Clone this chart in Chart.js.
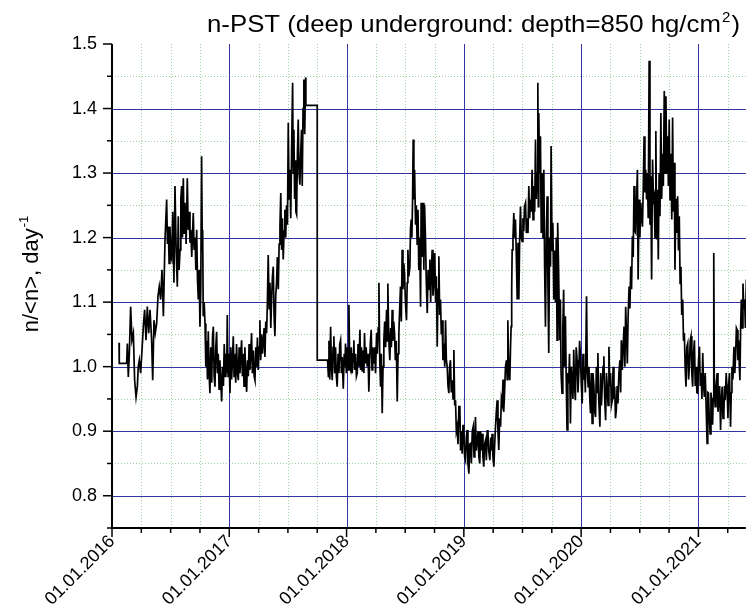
<!DOCTYPE html>
<html>
<head>
<meta charset="utf-8">
<script src="https://cdn.jsdelivr.net/npm/chart.js@4.4.1/dist/chart.umd.min.js"></script>
<style>
  html, body { margin: 0; padding: 0; background: #fff; }
  #wrap { width: 746px; height: 613px; }
</style>
</head>
<body>
<div id="wrap"><canvas id="grafica" width="746" height="613"></canvas></div>
<script>
// n-PST normalized count rate, [decimal year, n/<n>]
const run2016 = [
  [2016.060,1.037],[2016.062,1.005],[2016.125,1.005],[2016.131,1.036],[2016.139,0.984],[2016.148,1.021],
  [2016.159,1.093],[2016.170,1.041],[2016.182,1.052],[2016.193,0.979],[2016.205,0.953],[2016.216,0.969],
  [2016.224,1.000],[2016.233,1.010],[2016.244,0.990],[2016.256,1.026],[2016.267,1.062],[2016.278,1.088],
  [2016.290,1.041],[2016.301,1.093],[2016.313,1.052],[2016.324,1.088],[2016.338,1.041],[2016.347,0.979],
  [2016.358,1.072],[2016.369,1.052],[2016.381,1.067],[2016.392,1.109],[2016.403,1.124],[2016.415,1.104],
  [2016.426,1.150],[2016.438,1.078],[2016.452,1.197],[2016.466,1.259],[2016.473,1.190],[2016.480,1.217],
  [2016.487,1.160],[2016.494,1.217],[2016.502,1.170],[2016.509,1.166],[2016.518,1.240],[2016.528,1.130],
  [2016.537,1.280],[2016.547,1.180],[2016.557,1.124],[2016.565,1.233],[2016.572,1.150],[2016.580,1.181],
  [2016.587,1.260],[2016.594,1.280],[2016.601,1.200],[2016.608,1.292],[2016.615,1.207],[2016.622,1.254],
  [2016.632,1.190],[2016.642,1.292],[2016.650,1.212],[2016.657,1.240],[2016.665,1.192],[2016.672,1.212],
  [2016.680,1.170],[2016.693,1.238],[2016.700,1.181],[2016.708,1.200],[2016.715,1.150],[2016.722,1.212],
  [2016.729,1.135],[2016.736,1.104],[2016.743,1.150],[2016.750,1.062],[2016.757,1.120],[2016.764,1.326],
  [2016.770,1.180],[2016.773,1.212],[2016.778,1.078],[2016.786,1.100],[2016.793,1.067],[2016.800,1.000],
  [2016.807,1.040],[2016.814,0.980],[2016.821,1.055],[2016.828,0.990],[2016.835,0.959],[2016.842,1.030],
  [2016.850,0.975],[2016.857,1.045],[2016.864,1.062],[2016.871,0.985],[2016.878,0.969],[2016.885,1.030],
  [2016.892,1.054],[2016.899,0.990],[2016.906,1.020],[2016.913,0.965],[2016.920,1.010],[2016.928,0.975],
  [2016.935,0.946],[2016.942,1.000],[2016.950,0.970],[2016.957,1.035],[2016.964,0.985],[2016.971,1.020],
  [2016.978,0.990],[2016.983,1.080],[2016.990,0.985],[2016.997,1.020]
];
const run2017 = [
  [2017.006,0.959],[2017.013,1.030],[2017.020,0.980],[2017.027,1.010],[2017.034,1.047],[2017.041,0.985],
  [2017.048,1.020],[2017.055,0.975],[2017.062,1.035],[2017.070,0.990],[2017.077,0.979],[2017.084,1.030],
  [2017.091,0.990],[2017.098,1.015],[2017.105,1.041],[2017.112,0.985],[2017.119,1.020],[2017.126,0.970],
  [2017.133,1.030],[2017.140,0.990],[2017.148,0.961],[2017.155,1.010],[2017.162,0.985],[2017.169,1.035],
  [2017.176,0.995],[2017.183,1.020],[2017.190,1.052],[2017.197,0.990],[2017.205,1.025],[2017.212,0.985],
  [2017.219,0.979],[2017.226,1.030],[2017.233,1.000],[2017.240,1.045],[2017.247,0.995],[2017.254,1.030],
  [2017.261,1.072],[2017.268,1.010],[2017.275,1.050],[2017.283,1.020],[2017.290,1.041],[2017.297,1.060],
  [2017.304,1.015],[2017.311,1.070],[2017.318,1.052],[2017.325,1.100],[2017.332,1.173],[2017.340,1.090],
  [2017.347,1.130],[2017.354,1.060],[2017.361,1.104],[2017.368,1.140],[2017.375,1.155],[2017.382,1.080],
  [2017.389,1.047],[2017.396,1.110],[2017.403,1.129],[2017.410,1.170],[2017.418,1.120],[2017.425,1.190],
  [2017.432,1.217],[2017.439,1.269],[2017.446,1.181],[2017.453,1.230],[2017.460,1.166],[2017.467,1.210],
  [2017.474,1.243],[2017.481,1.200],[2017.488,1.250],[2017.496,1.220],[2017.503,1.378],[2017.510,1.260],
  [2017.517,1.305],[2017.524,1.230],[2017.531,1.330],[2017.540,1.440],[2017.545,1.300],[2017.551,1.367],
  [2017.557,1.260],[2017.563,1.320],[2017.568,1.240],[2017.574,1.236],[2017.581,1.330],[2017.588,1.383],
  [2017.595,1.300],[2017.602,1.282],[2017.609,1.330],[2017.616,1.367],[2017.622,1.280],[2017.629,1.400],
  [2017.636,1.445],[2017.643,1.360],[2017.651,1.448],[2017.653,1.405],[2017.750,1.405],[2017.750,1.010],
  [2017.838,1.010],[2017.845,0.985],[2017.850,1.040],[2017.857,0.980],[2017.864,1.062],[2017.871,1.000],
  [2017.878,0.979],[2017.885,1.030],[2017.892,1.047],[2017.899,0.990],[2017.906,1.030],[2017.913,0.985],
  [2017.920,0.969],[2017.928,1.020],[2017.935,0.990],[2017.942,1.035],[2017.949,1.041],[2017.956,0.990],
  [2017.963,1.015],[2017.972,0.966],[2017.980,1.020],[2017.986,1.000],[2017.991,1.036],[2017.998,0.990]
];
const run2018 = [
  [2018.006,1.030],[2018.013,0.995],[2018.020,1.096],[2018.027,1.000],[2018.034,0.995],[2018.041,1.030],
  [2018.048,0.990],[2018.055,1.020],[2018.062,1.041],[2018.069,0.995],[2018.076,1.020],[2018.084,0.985],
  [2018.091,0.990],[2018.098,1.035],[2018.105,1.000],[2018.114,1.057],[2018.120,0.995],[2018.127,1.030],
  [2018.134,0.992],[2018.141,1.025],[2018.148,0.990],[2018.153,1.052],[2018.160,1.005],[2018.167,1.030],
  [2018.176,1.000],[2018.183,1.020],[2018.190,0.961],[2018.197,1.010],[2018.204,1.040],[2018.210,1.057],
  [2018.217,0.995],[2018.223,1.030],[2018.233,1.005],[2018.240,1.030],[2018.247,0.990],[2018.256,1.052],
  [2018.262,1.020],[2018.270,1.060],[2018.276,1.130],[2018.283,1.010],[2018.290,0.969],[2018.297,1.020],
  [2018.304,0.928],[2018.311,1.000],[2018.318,1.041],[2018.325,1.070],[2018.333,1.030],[2018.341,1.088],
  [2018.347,1.040],[2018.352,1.129],[2018.358,1.060],[2018.363,1.030],[2018.369,1.010],[2018.376,1.060],
  [2018.382,1.030],[2018.389,1.088],[2018.395,1.040],[2018.402,1.070],[2018.409,1.052],[2018.416,1.010],
  [2018.424,1.040],[2018.432,0.946],[2018.439,1.020],[2018.446,1.052],[2018.453,1.090],[2018.460,1.124],
  [2018.467,1.070],[2018.474,1.181],[2018.481,1.120],[2018.488,1.160],[2018.494,1.145],[2018.502,1.100],
  [2018.511,1.072],[2018.517,1.130],[2018.523,1.181],[2018.531,1.140],[2018.540,1.155],[2018.545,1.212],
  [2018.551,1.228],[2018.557,1.200],[2018.563,1.260],[2018.568,1.352],[2018.574,1.259],[2018.580,1.305],
  [2018.588,1.220],[2018.595,1.250],[2018.602,1.190],[2018.609,1.243],[2018.616,1.150],[2018.623,1.200],
  [2018.631,1.093],[2018.636,1.254],[2018.643,1.170],[2018.648,1.230],[2018.653,1.254],[2018.659,1.150],
  [2018.665,1.251],[2018.673,1.197],[2018.680,1.130],[2018.688,1.083],[2018.695,1.150],[2018.703,1.120],
  [2018.710,1.166],[2018.717,1.100],[2018.723,1.150],[2018.730,1.181],[2018.737,1.110],[2018.744,1.129],
  [2018.752,1.176],[2018.759,1.100],[2018.766,1.140],[2018.773,1.031],[2018.780,1.120],[2018.787,1.171],
  [2018.794,1.080],[2018.801,1.104],[2018.808,1.050],[2018.815,1.072],[2018.822,1.010],[2018.830,1.036],
  [2018.837,1.000],[2018.844,1.072],[2018.851,1.010],[2018.858,1.000],[2018.865,0.970],[2018.872,0.959],
  [2018.879,1.000],[2018.886,1.010],[2018.893,0.960],[2018.901,0.979],[2018.908,0.950],[2018.915,1.026],
  [2018.922,0.940],[2018.929,0.948],[2018.936,0.900],[2018.943,0.907],[2018.950,0.880],[2018.958,0.938],
  [2018.966,0.938],[2018.972,0.870],[2018.979,0.900],[2018.986,0.865],[2018.993,0.910]
];
const run2019 = [
  [2019.000,0.896],[2019.007,0.860],[2019.014,0.855],[2019.021,0.890],[2019.028,0.902],[2019.035,0.850],
  [2019.043,0.834],[2019.050,0.880],[2019.057,0.881],[2019.064,0.850],[2019.072,0.900],[2019.080,0.907],
  [2019.087,0.860],[2019.094,0.890],[2019.099,0.922],[2019.106,0.870],[2019.114,0.886],[2019.121,0.900],
  [2019.128,0.860],[2019.136,0.850],[2019.143,0.900],[2019.150,0.870],[2019.156,0.896],[2019.163,0.860],
  [2019.170,0.845],[2019.177,0.880],[2019.185,0.886],[2019.192,0.855],[2019.199,0.900],[2019.205,0.902],
  [2019.212,0.870],[2019.222,0.855],[2019.229,0.890],[2019.235,0.870],[2019.241,0.896],[2019.248,0.860],
  [2019.256,0.845],[2019.263,0.880],[2019.270,0.907],[2019.277,0.930],[2019.284,0.948],[2019.291,0.900],
  [2019.298,0.871],[2019.305,0.920],[2019.313,0.907],[2019.320,0.950],[2019.327,0.943],[2019.334,0.980],
  [2019.340,0.930],[2019.347,0.959],[2019.355,1.000],[2019.364,1.010],[2019.370,0.980],[2019.375,1.072],
  [2019.382,1.000],[2019.392,0.979],[2019.398,1.030],[2019.403,1.062],[2019.408,1.120],[2019.412,1.181],
  [2019.419,1.200],[2019.426,1.238],[2019.433,1.200],[2019.440,1.228],[2019.445,1.192],[2019.449,1.192],
  [2019.455,1.104],[2019.462,1.192],[2019.469,1.104],[2019.476,1.200],[2019.483,1.248],[2019.490,1.200],
  [2019.497,1.194],[2019.504,1.230],[2019.511,1.210],[2019.517,1.248],[2019.526,1.254],[2019.533,1.207],
  [2019.540,1.230],[2019.547,1.207],[2019.554,1.280],[2019.561,1.230],[2019.568,1.259],[2019.575,1.240],
  [2019.582,1.305],[2019.590,1.228],[2019.597,1.280],[2019.604,1.240],[2019.611,1.352],[2019.618,1.260],
  [2019.625,1.300],[2019.631,1.440],[2019.635,1.248],[2019.639,1.393],[2019.646,1.300],[2019.653,1.357],
  [2019.660,1.207],[2019.668,1.300],[2019.675,1.200],[2019.682,1.305],[2019.689,1.150],[2019.696,1.062],
  [2019.703,1.200],[2019.710,1.264],[2019.717,1.129],[2019.724,1.021],[2019.731,1.200],[2019.739,1.155],
  [2019.744,1.342],[2019.752,1.180],[2019.759,1.223],[2019.767,1.104],[2019.774,1.180],[2019.781,1.100],
  [2019.788,1.200],[2019.795,1.041],[2019.800,1.223],[2019.808,1.150],[2019.817,1.041],[2019.823,1.104],
  [2019.829,0.990],[2019.837,0.959],[2019.844,1.060],[2019.851,1.119],[2019.858,1.000],[2019.866,1.078],
  [2019.873,0.980],[2019.880,0.902],[2019.887,0.990],[2019.894,0.974],[2019.901,1.020],[2019.909,0.912],
  [2019.916,1.000],[2019.923,0.979],[2019.930,0.950],[2019.937,1.026],[2019.944,0.970],[2019.951,0.948],
  [2019.958,1.030],[2019.966,1.010],[2019.973,0.960],[2019.980,0.990],[2019.987,1.040],[2019.994,1.016]
];
const run2020 = [
  [2020.002,0.970],[2020.009,0.943],[2020.016,1.020],[2020.022,0.980],[2020.029,1.000],[2020.036,0.960],
  [2020.046,1.109],[2020.053,0.990],[2020.060,0.969],[2020.067,1.000],[2020.074,0.950],[2020.080,0.928],
  [2020.087,0.990],[2020.094,0.912],[2020.101,0.990],[2020.109,0.969],[2020.116,0.930],[2020.123,0.922],
  [2020.130,1.000],[2020.137,0.960],[2020.143,1.021],[2020.150,0.950],[2020.160,0.907],[2020.167,0.990],
  [2020.173,0.940],[2020.180,0.969],[2020.187,1.000],[2020.194,1.016],[2020.201,0.950],[2020.209,0.917],
  [2020.216,0.990],[2020.223,0.969],[2020.230,0.940],[2020.237,1.031],[2020.244,0.970],[2020.251,0.990],
  [2020.258,0.940],[2020.266,0.948],[2020.273,1.000],[2020.280,0.950],[2020.286,0.969],[2020.293,0.920],
  [2020.300,0.933],[2020.307,0.970],[2020.314,0.943],[2020.322,0.990],[2020.331,1.010],[2020.337,0.960],
  [2020.343,1.041],[2020.351,0.995],[2020.358,1.030],[2020.366,1.062],[2020.373,1.000],[2020.380,1.093],
  [2020.387,1.050],[2020.394,1.005],[2020.401,1.080],[2020.409,1.124],[2020.416,1.090],[2020.423,1.155],
  [2020.430,1.120],[2020.437,1.202],[2020.444,1.170],[2020.451,1.280],[2020.458,1.210],[2020.466,1.207],
  [2020.473,1.260],[2020.480,1.305],[2020.486,1.135],[2020.494,1.259],[2020.501,1.200],[2020.509,1.254],
  [2020.516,1.230],[2020.523,1.217],[2020.530,1.280],[2020.537,1.357],[2020.544,1.270],[2020.551,1.305],
  [2020.558,1.259],[2020.565,1.300],[2020.572,1.230],[2020.580,1.474],[2020.587,1.220],[2020.594,1.295],
  [2020.601,1.135],[2020.609,1.321],[2020.617,1.259],[2020.623,1.264],[2020.630,1.200],[2020.637,1.365],
  [2020.644,1.197],[2020.651,1.274],[2020.658,1.166],[2020.665,1.300],[2020.672,1.233],[2020.680,1.393],
  [2020.687,1.260],[2020.694,1.330],[2020.701,1.280],[2020.709,1.427],[2020.716,1.300],[2020.723,1.419],
  [2020.730,1.300],[2020.737,1.357],[2020.744,1.280],[2020.751,1.383],[2020.758,1.259],[2020.765,1.330],
  [2020.773,1.228],[2020.780,1.386],[2020.787,1.240],[2020.794,1.316],[2020.800,1.150],[2020.808,1.260],
  [2020.817,1.207],[2020.823,1.264],[2020.830,1.180],[2020.837,1.233],[2020.844,1.129],[2020.851,1.155],
  [2020.858,1.080],[2020.866,1.104],[2020.873,1.040],[2020.880,1.052],[2020.887,1.000],[2020.894,0.969],
  [2020.901,1.030],[2020.909,1.036],[2020.916,0.980],[2020.923,1.000],[2020.930,1.040],[2020.937,1.047],
  [2020.944,0.990],[2020.951,0.969],[2020.958,1.020],[2020.966,1.041],[2020.973,0.970],[2020.980,1.000],
  [2020.987,0.960],[2020.994,0.959]
];
const run2021 = [
  [2021.001,1.010],[2021.009,1.031],[2021.016,0.970],[2021.023,0.990],[2021.030,0.950],[2021.037,1.021],
  [2021.044,0.970],[2021.051,0.953],[2021.058,0.990],[2021.066,0.938],[2021.074,0.881],[2021.080,0.960],
  [2021.086,0.959],[2021.093,0.920],[2021.100,0.896],[2021.107,0.960],[2021.114,0.948],[2021.121,0.910],
  [2021.126,0.950],[2021.131,1.176],[2021.136,0.960],[2021.143,0.938],[2021.150,0.970],[2021.160,0.990],
  [2021.167,0.930],[2021.174,0.948],[2021.181,0.970],[2021.189,0.902],[2021.196,0.950],[2021.203,0.969],
  [2021.210,0.920],[2021.217,0.928],[2021.223,0.970],[2021.229,0.948],[2021.237,0.990],[2021.246,0.959],
  [2021.252,0.920],[2021.257,0.969],[2021.265,0.990],[2021.274,0.907],[2021.280,0.960],[2021.286,1.000],
  [2021.294,0.980],[2021.303,1.031],[2021.310,0.990],[2021.317,1.016],[2021.324,1.060],[2021.331,1.057],
  [2021.337,1.010],[2021.343,1.041],[2021.349,1.000],[2021.354,0.979],[2021.360,1.060],[2021.366,1.104],
  [2021.373,1.060],[2021.380,1.129],[2021.387,1.090],[2021.394,1.104],[2021.401,1.060],[2021.409,1.135],
  [2021.417,1.062]
];

// axis ranges and labelled ticks
const xMin = 2016, xMax = 2021.405;
const yearTicks = [2016, 2017, 2018, 2019, 2020, 2021];
const valueTicks = [0.8, 0.9, 1.0, 1.1, 1.2, 1.3, 1.4, 1.5];
const yMin = 0.75, yMax = 1.5;

const puntos = [].concat(run2016, run2017, run2018, run2019, run2020, run2021)
  .map(p => ({ x: p[0], y: p[1] }));

const FONT = '"Liberation Sans", Arial, sans-serif';
const isYear = v => Math.abs(v - Math.round(v)) < 1e-6;
const isTenth = v => Math.abs(v * 10 - Math.round(v * 10)) < 1e-6;

// grid, axis lines and tick marks drawn through the chart scales
const ejes = {
  id: 'ejes',
  beforeDatasetsDraw(chart) {
    const { ctx, chartArea: a, scales: { x, y } } = chart;
    ctx.save();
    // minor dotted grid
    ctx.strokeStyle = 'rgba(120,190,120,0.7)';
    ctx.lineWidth = 1;
    ctx.setLineDash([1, 2]);
    x.ticks.forEach(t => {
      if (isYear(t.value)) return;
      const px = Math.round(x.getPixelForValue(t.value)) + 0.5;
      ctx.beginPath(); ctx.moveTo(px, a.top); ctx.lineTo(px, a.bottom); ctx.stroke();
    });
    y.ticks.forEach(t => {
      if (isTenth(t.value) || t.value <= yMin) return;
      const py = Math.round(y.getPixelForValue(t.value)) + 0.5;
      ctx.beginPath(); ctx.moveTo(a.left, py); ctx.lineTo(a.right, py); ctx.stroke();
    });
    // major grid
    ctx.setLineDash([]);
    ctx.strokeStyle = 'rgb(52,52,160)';
    yearTicks.forEach(v => {
      if (v === xMin) return;
      const px = Math.round(x.getPixelForValue(v)) + 0.5;
      ctx.beginPath(); ctx.moveTo(px, a.top); ctx.lineTo(px, a.bottom); ctx.stroke();
    });
    valueTicks.forEach(v => {
      if (v >= yMax) return;
      const py = Math.round(y.getPixelForValue(v)) + 0.5;
      ctx.beginPath(); ctx.moveTo(a.left, py); ctx.lineTo(a.right, py); ctx.stroke();
    });
    ctx.restore();
  },
  afterDatasetsDraw(chart) {
    const { ctx, chartArea: a, scales: { x, y } } = chart;
    ctx.save();
    ctx.strokeStyle = '#000';
    ctx.lineWidth = 1.5;
    x.ticks.forEach(t => {
      const px = x.getPixelForValue(t.value);
      const len = isYear(t.value) ? 9 : 5;
      ctx.beginPath(); ctx.moveTo(px, a.bottom); ctx.lineTo(px, a.bottom + len); ctx.stroke();
    });
    y.ticks.forEach(t => {
      const py = y.getPixelForValue(t.value);
      const len = isTenth(t.value) ? 9 : 5;
      ctx.beginPath(); ctx.moveTo(a.left, py); ctx.lineTo(a.left - len, py); ctx.stroke();
    });
    ctx.lineWidth = 2;
    ctx.beginPath();
    ctx.moveTo(a.left, a.top);
    ctx.lineTo(a.left, a.bottom);
    ctx.lineTo(a.right, a.bottom);
    ctx.stroke();
    ctx.restore();
  }
};

// title and y-axis caption with superscripts
const textos = {
  id: 'textos',
  afterDraw(chart) {
    const { ctx } = chart;
    ctx.save();
    ctx.fillStyle = '#000';
    ctx.textBaseline = 'alphabetic';

    const main = 'n-PST (deep underground: depth=850 hg/cm';
    ctx.font = '24px ' + FONT;
    const wMain = ctx.measureText(main).width;
    ctx.font = '14px ' + FONT;
    const wSup = ctx.measureText('2').width;
    ctx.font = '24px ' + FONT;
    const wEnd = ctx.measureText(')').width;
    const total = wMain + wSup + 2 + wEnd;
    const left = 207, right = 740;
    ctx.translate(left, 32);
    ctx.scale((right - left) / total, 1);
    ctx.fillText(main, 0, 0);
    ctx.font = '14px ' + FONT;
    ctx.fillText('2', wMain + 1, -10);
    ctx.font = '24px ' + FONT;
    ctx.fillText(')', wMain + wSup + 2, 0);
    ctx.restore();

    ctx.save();
    ctx.fillStyle = '#000';
    const lab = 'n/<n>, day';
    ctx.font = '22px ' + FONT;
    const wLab = ctx.measureText(lab).width;
    ctx.font = '13px ' + FONT;
    const wExp = ctx.measureText('-1').width;
    const len = wLab + wExp + 1;
    ctx.translate(38, 274);
    ctx.rotate(-Math.PI / 2);
    ctx.font = '22px ' + FONT;
    ctx.fillText(lab, -len / 2, 0);
    ctx.font = '13px ' + FONT;
    ctx.fillText('-1', -len / 2 + wLab + 1, -10);
    ctx.restore();
  }
};

const ctx = document.getElementById('grafica').getContext('2d');
new Chart(ctx, {
  type: 'line',
  data: {
    datasets: [{
      data: puntos,
      borderColor: '#000',
      borderWidth: 1.7,
      pointRadius: 0,
      fill: false,
      tension: 0
    }]
  },
  options: {
    responsive: false,
    animation: false,
    devicePixelRatio: 1,
    layout: { padding: { top: 44, left: 0, right: 0, bottom: 0 } },
    plugins: { legend: { display: false }, tooltip: { enabled: false }, title: { display: false } },
    scales: {
      x: {
        type: 'linear',
        min: xMin,
        max: xMax,
        afterBuildTicks: s => {
          const t = [];
          for (let v = xMin; v <= xMax + 1e-9; v += 0.25) t.push({ value: +v.toFixed(2) });
          s.ticks = t;
        },
        afterFit: s => { s.height = 85; },
        grid: { display: false, drawTicks: false },
        border: { display: false },
        ticks: {
          autoSkip: false,
          maxRotation: 45,
          minRotation: 45,
          padding: 3,
          color: '#000',
          font: { family: FONT, size: 18 },
          callback: v => isYear(v) ? '01.01.' + Math.round(v) : ''
        }
      },
      y: {
        min: yMin,
        max: yMax,
        afterBuildTicks: s => {
          const t = [];
          for (let v = yMin; v <= yMax + 1e-9; v += 0.05) t.push({ value: +v.toFixed(2) });
          s.ticks = t;
        },
        afterFit: s => { s.width = 112; },
        grid: { display: false, drawTicks: false },
        border: { display: false },
        ticks: {
          autoSkip: false,
          padding: 15,
          color: '#000',
          font: { family: FONT, size: 18 },
          callback: v => (isTenth(v) && v > yMin) ? v.toFixed(1) : ''
        }
      }
    }
  },
  plugins: [ejes, textos]
});
</script>
</body>
</html>
